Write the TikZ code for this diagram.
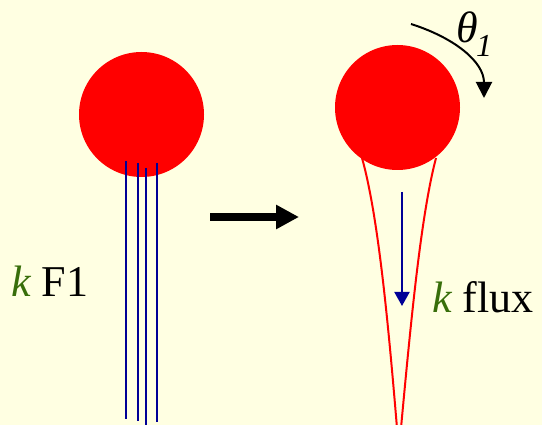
\documentclass[tikz,border=0pt]{standalone}
\usepackage{fontspec}
\setmainfont{Liberation Serif}
\usetikzlibrary{arrows.meta}
\definecolor{bgyellow}{RGB}{255,255,226}
\definecolor{kgreen}{RGB}{56,110,10}
\definecolor{fluxblue}{RGB}{0,0,150}
\tikzset{
  ball/.style={circle, fill=red, draw=none, minimum size=125pt, inner sep=0pt},
  fibre/.style={draw=fluxblue, line width=2pt},
  tube/.style={draw=red, line width=2pt},
  lbl/.style={anchor=base west, inner sep=0pt, font=\fontsize{44}{48}\selectfont},
}
\begin{document}
\begin{tikzpicture}[x=1pt,y=-1pt]
\fill[bgyellow] (0,0) rectangle (542,425);
\useasboundingbox (0,0) rectangle (542,425);
% left ball with fibres
\node[ball] (b1) at (141.5,114.5) {};
\coordinate (t1) at (126,161);   \coordinate (e1) at (126,419);
\coordinate (t2) at (137.5,163); \coordinate (e2) at (137.5,421);
\coordinate (t3) at (145.7,168); \coordinate (e3) at (145.7,426);
\coordinate (t4) at (157,163);   \coordinate (e4) at (157,422);
\draw[fibre] (t1) -- (e1);
\draw[fibre] (t2) -- (e2);
\draw[fibre] (t3) -- (e3);
\draw[fibre] (t4) -- (e4);
\node[lbl] (kf1) at (11,297) {{\color{kgreen}\itshape k} F1};
% transition arrow
\coordinate (a0) at (210,217);
\coordinate (a1) at (299,217);
\draw[line width=8pt, -{Triangle[width=23pt,length=23pt]}] (a0) -- (a1);
% right ball with tube
\node[ball] (b2) at (397.5,107.5) {};
\coordinate (l0) at (362,158); \coordinate (l1) at (397,428);
\coordinate (r0) at (436,158); \coordinate (r1) at (401,428);
\draw[tube] (l0) .. controls (378,215) and (388,320) .. (l1);
\draw[tube] (r0) .. controls (421,215) and (411,320) .. (r1);
\coordinate (f0) at (402,192);
\coordinate (f1) at (402,306);
\draw[draw=fluxblue, line width=2pt, -{Triangle[width=15pt,length=14pt]}] (f0) -- (f1);
\node[lbl] (kflux) at (432,313) {{\color{kgreen}\itshape k} flux};
% rotation
\coordinate (r2) at (411,24);
\coordinate (r3) at (484,98);
\draw[line width=2pt, -{Triangle[width=16pt,length=16pt]}] (r2) .. controls (455,38) and (484,62) .. (r3);
\node[lbl] (theta) at (456,43) {\itshape θ};
\node[anchor=base west, inner sep=0pt, font=\fontsize{32}{34}\selectfont\itshape] (one) at (476,57) {1};
\end{tikzpicture}
\end{document}
